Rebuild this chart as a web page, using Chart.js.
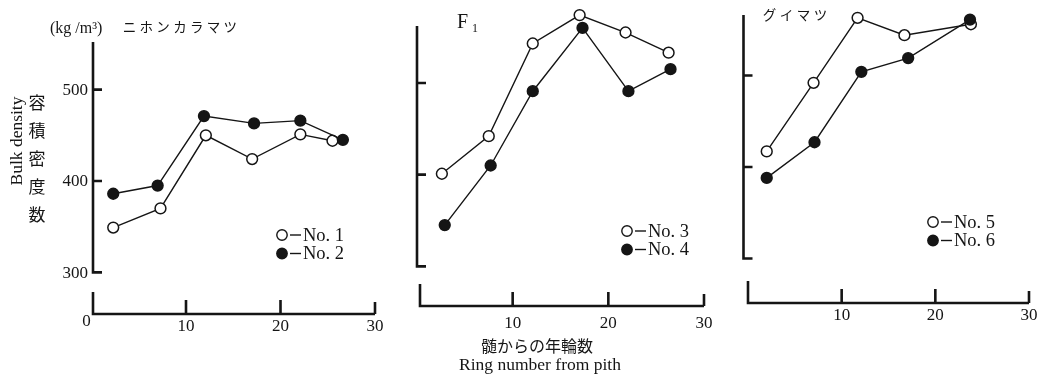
<!DOCTYPE html>
<html>
<head>
<meta charset="utf-8">
<script src="https://cdn.jsdelivr.net/npm/chart.js@4/dist/chart.umd.min.js"></script>
<style>
body { margin: 0; background: #fff; }
#wrap { position: relative; width: 1038px; height: 378px; overflow: hidden; background: #fff; }
canvas { position: absolute; left: 0; top: 0; }
</style>
</head>
<body>
<div id="wrap">
    <canvas id="p1" width="1038" height="378"></canvas>
    <canvas id="p2" width="1038" height="378"></canvas>
    <canvas id="p3" width="1038" height="378"></canvas>
</div>
<script>
const INK = '#151515';
const SERIF = '"Liberation Serif", "DejaVu Serif", serif';
const CJK = '"Noto Sans CJK JP", sans-serif';

// tick values
const yTicks = [300, 400, 500];
const xTicks = [10, 20, 30];

// ニホンカラマツ
const ringNo1 = [2.3, 7.3, 12.1, 17.0, 22.1, 25.5];
const densNo1 = [349, 370, 450, 424, 451, 444];
const ringNo2 = [2.3, 7.0, 11.9, 17.2, 22.1, 26.6];
const densNo2 = [386, 395, 471, 463, 466, 445];

// F1
const ringNo3 = [2.6, 7.5, 12.1, 17.0, 21.8, 26.3];
const densNo3 = [401, 442, 543, 574, 555, 533];
const ringNo4 = [2.9, 7.7, 12.1, 17.3, 22.1, 26.5];
const densNo4 = [345, 410, 491, 560, 491, 515];

// グイマツ
const ringNo5 = [2.0, 7.0, 11.7, 16.7, 23.8];
const densNo5 = [417, 492, 563, 544, 556];
const ringNo6 = [2.0, 7.1, 12.1, 17.1, 23.7];
const densNo6 = [388, 427, 504, 519, 561];

const W = 1038, H = 378;

// where each panel sits on the page
const panels = [
    {
        id: 'p1', x0: 91.5, x30: 375, y500: 86, y300: 271.7, base: 314, yTop: 552,
        yAxisDx: 1.5, stubDx: 1.5, yLabels: true, zero: true, labelDy: 13,
        legend: { x: 282, y: 235 },
        series: [
            { label: 'No. 1', x: ringNo1, y: densNo1, open: true },
            { label: 'No. 2', x: ringNo2, y: densNo2, open: false }
        ]
    },
    {
        id: 'p2', x0: 417, x30: 704, y500: 79.3, y300: 265.7, base: 306, yTop: 562,
        yAxisDx: 0, stubDx: 3, yLabels: false, zero: false, labelDy: 18,
        legend: { x: 627, y: 231 },
        series: [
            { label: 'No. 3', x: ringNo3, y: densNo3, open: true },
            { label: 'No. 4', x: ringNo4, y: densNo4, open: false }
        ]
    },
    {
        id: 'p3', x0: 748, x30: 1029, y500: 71.7, y300: 257.7, base: 303, yTop: 566,
        yAxisDx: -4.5, stubDx: 0, yLabels: false, zero: false, labelDy: 13,
        legend: { x: 933, y: 222 },
        series: [
            { label: 'No. 5', x: ringNo5, y: densNo5, open: true },
            { label: 'No. 6', x: ringNo6, y: densNo6, open: false }
        ]
    }
];

function spacedText(ctx, str, left, y, pitch) {
    for (let i = 0; i < str.length; i++) {
        ctx.fillText(str[i], left + i * pitch, y);
    }
}

function makeAxes(p, idx) {
    return {
        id: 'panelAxes' + idx,
        beforeDatasetsDraw(chart) {
            const ctx = chart.ctx;
            const xs = chart.scales.x, ys = chart.scales.y;
            ctx.save();
            ctx.strokeStyle = INK;
            ctx.fillStyle = INK;
            ctx.lineWidth = 2.6;
            ctx.lineCap = 'butt';

            // y axis with inward ticks
            const ax = xs.getPixelForValue(0) + p.yAxisDx;
            ctx.beginPath();
            ctx.moveTo(ax, ys.getPixelForValue(p.yTop));
            ctx.lineTo(ax, ys.getPixelForValue(300) + 1.3);
            yTicks.forEach(t => {
                const py = ys.getPixelForValue(t);
                ctx.moveTo(ax, py);
                ctx.lineTo(ax + 9, py);
            });
            ctx.stroke();

            ctx.font = '17px ' + SERIF;
            ctx.textBaseline = 'middle';
            if (p.yLabels) {
                ctx.textAlign = 'right';
                yTicks.forEach(t => ctx.fillText(String(t), ax - 5, ys.getPixelForValue(t) + 1));
            }

            // x axis, drawn apart from the y axis
            const by = p.base;
            const sx = xs.getPixelForValue(0) + p.stubDx;
            ctx.beginPath();
            ctx.moveTo(sx, by - 22);
            ctx.lineTo(sx, by);
            ctx.lineTo(xs.getPixelForValue(30), by);
            xTicks.forEach(t => {
                const px = xs.getPixelForValue(t);
                ctx.moveTo(px, by);
                ctx.lineTo(px, by - (t === 30 ? 12 : 14));
            });
            ctx.stroke();

            ctx.textAlign = 'center';
            xTicks.forEach(t => ctx.fillText(String(t), xs.getPixelForValue(t), by + p.labelDy));
            if (p.zero) ctx.fillText('0', xs.getPixelForValue(0) - 5, by + p.labelDy - 5);
            ctx.restore();
        },
        afterDraw(chart) {
            const ctx = chart.ctx;
            ctx.save();
            ctx.fillStyle = INK;
            ctx.strokeStyle = INK;

            // legend
            p.series.forEach((s, i) => {
                const cx = p.legend.x, cy = p.legend.y + i * 18.5;
                ctx.beginPath();
                ctx.arc(cx, cy, 5.2, 0, Math.PI * 2);
                ctx.fillStyle = s.open ? '#fff' : INK;
                ctx.fill();
                ctx.lineWidth = 1.4;
                ctx.stroke();
                ctx.beginPath();
                ctx.lineWidth = 1.4;
                ctx.moveTo(cx + 8, cy);
                ctx.lineTo(cx + 19, cy);
                ctx.stroke();
                ctx.fillStyle = INK;
                ctx.font = '18.5px ' + SERIF;
                ctx.textAlign = 'left';
                ctx.textBaseline = 'middle';
                ctx.fillText(s.label, cx + 21, cy + 1);
            });

            // panel titles and shared labels
            ctx.textBaseline = 'middle';
            if (idx === 0) {
                ctx.font = '16px ' + SERIF;
                ctx.textAlign = 'left';
                ctx.fillText('(kg /m³)', 50, 29);
                ctx.font = '13.5px ' + CJK;
                ctx.textAlign = 'center';
                spacedText(ctx, 'ニホンカラマツ', 129.5, 27, 16.8);

                ctx.save();
                ctx.translate(17, 141);
                ctx.rotate(-Math.PI / 2);
                ctx.font = '17.5px ' + SERIF;
                ctx.textAlign = 'center';
                ctx.fillText('Bulk density', 0, 0);
                ctx.restore();

                ctx.font = '17px ' + CJK;
                ctx.textAlign = 'center';
                const vert = '容積密度数';
                for (let i = 0; i < vert.length; i++) ctx.fillText(vert[i], 37, 103 + i * 28);
            }
            if (idx === 1) {
                ctx.font = '20px ' + SERIF;
                ctx.textAlign = 'left';
                ctx.fillText('F', 457, 23);
                ctx.font = '12px ' + SERIF;
                ctx.fillText('1', 472, 29);

                ctx.textAlign = 'center';
                ctx.font = '16px ' + CJK;
                ctx.fillText('髄からの年輪数', 537, 346);
                ctx.font = '17.5px ' + SERIF;
                ctx.fillText('Ring number from pith', 540, 365);
            }
            if (idx === 2) {
                ctx.font = '13.5px ' + CJK;
                ctx.textAlign = 'center';
                spacedText(ctx, 'グイマツ', 769.5, 15, 17);
            }
            ctx.restore();
        }
    };
}

panels.forEach((p, idx) => {
    const k = (p.y300 - p.y500) / 200;
    const yMax = 500 + (p.y500 - 2) / k;
    const yMin = 300 - (p.base - p.y300) / k;

    new Chart(document.getElementById(p.id), {
        type: 'line',
        data: {
            datasets: p.series.map(s => ({
                label: s.label,
                data: s.x.map((v, i) => ({ x: v, y: s.y[i] })),
                borderColor: INK,
                borderWidth: 1.4,
                pointRadius: 5.4,
                pointHoverRadius: 5.4,
                pointBorderWidth: 1.5,
                pointBorderColor: INK,
                pointBackgroundColor: s.open ? '#fff' : INK,
                fill: false,
                tension: 0,
                clip: false,
                order: s.open ? 1 : 0
            }))
        },
        options: {
            responsive: false,
            animation: false,
            devicePixelRatio: 1,
            events: [],
            layout: { padding: { left: p.x0, right: W - p.x30, top: 2, bottom: H - p.base } },
            scales: {
                x: { type: 'linear', min: 0, max: 30, display: false },
                y: { type: 'linear', min: yMin, max: yMax, display: false }
            },
            plugins: { legend: { display: false }, tooltip: { enabled: false } }
        },
        plugins: [makeAxes(p, idx)]
    });
});
</script>
</body>
</html>
